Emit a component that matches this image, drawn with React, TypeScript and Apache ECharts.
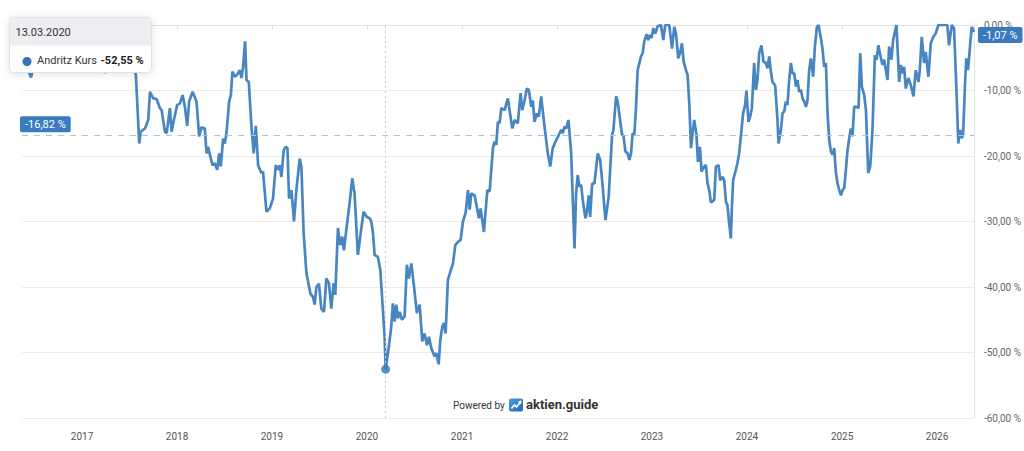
import React, { useEffect, useRef } from "react";
import * as echarts from "echarts";

// ---------- data (dates as decimal years) ----------
const seriesName = "Andritz Kurs";

const dates = [
  // 2016 - 2017
  2016.369, 2016.411, 2016.464, 2016.506, 2016.579, 2016.664, 2016.748, 2016.832, 2016.926,
  2017.032, 2017.137, 2017.242, 2017.315, 2017.400, 2017.484, 2017.536, 2017.568, 2017.602,
  2017.617, 2017.662, 2017.697, 2017.715, 2017.750, 2017.785, 2017.820, 2017.838, 2017.873,
  2017.891, 2017.925, 2017.943, 2017.967,
  // 2018
  2018.002, 2018.030, 2018.059, 2018.083, 2018.107, 2018.128, 2018.164, 2018.206, 2018.233,
  2018.259, 2018.293, 2018.311, 2018.328, 2018.346, 2018.374, 2018.398, 2018.423, 2018.444,
  2018.461, 2018.486, 2018.504, 2018.521, 2018.549, 2018.567, 2018.584, 2018.609, 2018.633,
  2018.661, 2018.679, 2018.696, 2018.717, 2018.732, 2018.756, 2018.784, 2018.808, 2018.830,
  2018.854, 2018.889, 2018.906, 2018.942, 2018.977,
  // 2019
  2019.011, 2019.040, 2019.064, 2019.082, 2019.100, 2019.124, 2019.145, 2019.163, 2019.180,
  2019.205, 2019.232, 2019.257, 2019.292, 2019.310, 2019.334, 2019.363, 2019.405, 2019.432,
  2019.450, 2019.468, 2019.495, 2019.520, 2019.548, 2019.573, 2019.600, 2019.625, 2019.650,
  2019.667, 2019.695, 2019.720, 2019.741, 2019.758, 2019.783, 2019.818, 2019.846, 2019.870,
  2019.905, 2019.930, 2019.965,
  // 2020
  2020.000, 2020.028, 2020.046, 2020.063, 2020.081, 2020.115, 2020.141, 2020.168, 2020.186,
  2020.197, 2020.231, 2020.256, 2020.273, 2020.291, 2020.309, 2020.326, 2020.344, 2020.368,
  2020.396, 2020.420, 2020.441, 2020.467, 2020.491, 2020.525, 2020.554, 2020.582, 2020.606,
  2020.631, 2020.652, 2020.677, 2020.712, 2020.729, 2020.754, 2020.771, 2020.793, 2020.809,
  2020.827, 2020.851, 2020.904, 2020.929, 2020.957, 2020.985,
  // 2021
  2021.009, 2021.037, 2021.062, 2021.080, 2021.097, 2021.132, 2021.177, 2021.195, 2021.230,
  2021.266, 2021.290, 2021.325, 2021.342, 2021.360, 2021.377, 2021.395, 2021.413, 2021.448,
  2021.482, 2021.500, 2021.529, 2021.553, 2021.587, 2021.616, 2021.634, 2021.658, 2021.682,
  2021.703, 2021.728, 2021.745, 2021.763, 2021.787, 2021.808, 2021.833, 2021.868, 2021.903,
  2021.928, 2021.955, 2021.984,
  // 2022
  2022.018, 2022.044, 2022.061, 2022.078, 2022.096, 2022.120, 2022.149, 2022.184, 2022.201,
  2022.218, 2022.236, 2022.254, 2022.271, 2022.299, 2022.313, 2022.334, 2022.349, 2022.370,
  2022.394, 2022.429, 2022.454, 2022.475, 2022.510, 2022.544, 2022.580, 2022.594, 2022.622,
  2022.639, 2022.664, 2022.685, 2022.699, 2022.720, 2022.744, 2022.762, 2022.780, 2022.796,
  2022.814, 2022.832, 2022.849, 2022.885, 2022.902, 2022.919, 2022.944, 2022.962, 2022.979,
  2022.996,
  // 2023
  2023.014, 2023.035, 2023.059, 2023.095, 2023.119, 2023.140, 2023.182, 2023.211, 2023.235,
  2023.253, 2023.277, 2023.295, 2023.316, 2023.333, 2023.358, 2023.375, 2023.393, 2023.411,
  2023.427, 2023.445, 2023.469, 2023.484, 2023.505, 2023.522, 2023.550, 2023.568, 2023.585,
  2023.603, 2023.621, 2023.656, 2023.673, 2023.701, 2023.719, 2023.743, 2023.761, 2023.779,
  2023.795, 2023.813, 2023.831, 2023.842, 2023.855, 2023.884, 2023.900, 2023.918, 2023.936,
  2023.960, 2023.981, 2023.995,
  // 2024
  2024.016, 2024.034, 2024.052, 2024.076, 2024.094, 2024.111, 2024.129, 2024.153, 2024.174,
  2024.199, 2024.216, 2024.234, 2024.252, 2024.268, 2024.297, 2024.321, 2024.332, 2024.357,
  2024.374, 2024.392, 2024.409, 2024.426, 2024.444, 2024.462, 2024.479, 2024.497, 2024.515,
  2024.531, 2024.549, 2024.567, 2024.584, 2024.602, 2024.620, 2024.636, 2024.654, 2024.672,
  2024.696, 2024.714, 2024.735, 2024.752, 2024.777, 2024.794, 2024.812, 2024.830, 2024.847,
  2024.865, 2024.882, 2024.899, 2024.917, 2024.935, 2024.952, 2024.970, 2024.988,
  // 2025 - 2026
  2025.004, 2025.022, 2025.040, 2025.057, 2025.075, 2025.093, 2025.110, 2025.127, 2025.152,
  2025.173, 2025.191, 2025.208, 2025.233, 2025.251, 2025.275, 2025.296, 2025.320, 2025.345,
  2025.362, 2025.383, 2025.390, 2025.425, 2025.443, 2025.478, 2025.495, 2025.520, 2025.537,
  2025.572, 2025.601, 2025.618, 2025.635, 2025.653, 2025.671, 2025.698, 2025.724, 2025.751,
  2025.776, 2025.804, 2025.818, 2025.839, 2025.863, 2025.881, 2025.909, 2025.934, 2025.961,
  2025.986, 2026.014, 2026.108, 2026.126, 2026.155, 2026.179, 2026.203, 2026.224, 2026.242,
  2026.260, 2026.274, 2026.295, 2026.308, 2026.326, 2026.344, 2026.365, 2026.389,
];

const values = [
  // 2016 - 2017
  -4.5, -6, -8, -5, -3, -4.5, -2.5, -5, -3.5,
  -6, -4, -7.3, -4, -2.5, -4, -3, -8, -18.1,
  -16.3, -15.8, -14.5, -10.2, -11.2, -11.3, -12.7, -13, -16.3,
  -16.5, -12.7, -16.3, -14.5,
  // 2018
  -12.2, -12, -10.7, -12.5, -15.4, -11.7, -10.2, -11.7, -17,
  -15.6, -15.8, -19.6, -18.6, -19.8, -21.4, -21.1, -22.1, -19.6,
  -21.6, -17.3, -18.1, -16.5, -11.7, -10.7, -7.1, -7.9, -7.6,
  -6.9, -8.1, -6.4, -2.5, -8.4, -8.7, -15.5, -19.6, -15.4,
  -21.4, -22.6, -22.4, -28.5, -28,
  // 2019
  -26.5, -21.4, -22.1, -21.4, -23.2, -19.1, -18.6, -18.8, -26.5,
  -25.2, -30, -25.2, -20.4, -21.6, -31.8, -37.9, -41, -41.5,
  -42.7, -40, -39.5, -43.3, -43.8, -38.7, -39.4, -43.3, -39.4,
  -41.2, -31, -33.6, -32.3, -34.4, -31.3, -27.2, -23.4, -25.7,
  -35.1, -32.3, -28.5,
  // 2020
  -29.3, -29.5, -30, -31.6, -35.1, -35.4, -37.4, -43.5, -47.6,
  -52.55, -49.1, -46, -42.5, -45.3, -42.7, -44.8, -43.8, -45,
  -44.5, -36.6, -38.7, -36.4, -39.4, -44, -42.7, -48.3, -47.1,
  -48.9, -47.6, -49.4, -50.6, -50.1, -51.8, -48.1, -46, -45.5,
  -47.1, -38.9, -36.4, -33.6, -33.1, -32.8,
  // 2021
  -30, -28.7, -25.2, -28.2, -25.7, -26, -29.5, -28, -31.6,
  -25.2, -25.4, -18.8, -17.8, -18.3, -14.8, -15, -12.7, -13,
  -11.2, -13, -15.8, -14.5, -15, -10.4, -13, -11.5, -9.7,
  -9.9, -12.5, -11.5, -14.8, -13.5, -14, -10.9, -15.5, -19.6,
  -21.6, -18.8, -17.8,
  // 2022
  -16.8, -16, -16.5, -15.5, -15.8, -14.5, -19.6, -34.1, -25.7,
  -22.9, -24.7, -24.4, -26.7, -29.5, -28.7, -26, -29.3, -24.2,
  -24.2, -19.6, -20.6, -23.7, -29.8, -26.2, -16.8, -16, -10.9,
  -11.7, -14.5, -16.8, -16.8, -19.3, -19.6, -20.6, -19.6, -16.5,
  -16.8, -12.5, -6.9, -4.8, -4.3, -2.5, -1.4, -2.3, -1.5,
  -2,
  // 2023
  -0.5, -1.3, -0.2, 0, -2.3, 0, 0, -3.6, -0.3,
  -1.3, -5.1, -4.3, -2.8, -5.6, -6.9, -7.6, -12, -18.8,
  -16.5, -14.5, -16.8, -20.9, -18.6, -22.4, -21.6, -21.4, -24.2,
  -25.2, -27.1, -26.7, -21.6, -21.4, -23.7, -23.2, -23.7, -27,
  -27.5, -30.3, -32.6, -27.7, -23.7, -22.1, -21.1, -19.6, -17,
  -13.5, -12.2, -10,
  // 2024
  -14.8, -14, -12.7, -5.8, -9.9, -8.4, -4.3, -3.1, -5.6,
  -5.8, -6.6, -4.8, -7.1, -8.7, -9.2, -14.5, -18.1, -16,
  -13.5, -13.2, -11.7, -12.2, -8.4, -5.8, -7.4, -7.4, -9.4,
  -8.4, -10.2, -9.9, -11.2, -11.7, -12.5, -11.5, -6.9, -5.1,
  -7.9, -3.3, -0.3, 0, -2, -3.6, -6.4, -5.8, -13.5,
  -17.6, -19.3, -19.8, -18.8, -22.6, -24.2, -25.2, -26,
  // 2025 - 2026
  -25.2, -24.9, -22.1, -19.1, -17.3, -15.8, -17, -12.5, -12.5,
  -12.7, -4.3, -9.4, -10.7, -13, -22.6, -21.6, -16, -4.6,
  -5.3, -3.1, -3.8, -6.1, -5.3, -8.4, -3.3, -5.3, -2.3,
  0, -8.7, -6.1, -7.4, -6.4, -9.7, -8.1, -9.2, -10.9,
  -6.9, -8.7, -6.9, -1.8, -5.8, -4.1, -7.9, -2.8, -1.8,
  -1.3, 0, 0, -3.1, 0, -0.5, -9.4, -18.1, -16,
  -17.3, -16.8, -8.9, -5.1, -6.9, -3.8, -0.3, -1.07,
];

const yearTicks = [2017, 2018, 2019, 2020, 2021, 2022, 2023, 2024, 2025, 2026];
const yMin = -60;
const yMax = 0;
const yStep = 10;
const referenceValue = -16.82;
const highlightDate = 2020.197; // 13.03.2020
const highlightValue = -52.55;

// ---------- helpers ----------
const toTs = (dy: number) => {
  const y = Math.floor(dy);
  const s = Date.UTC(y, 0, 1);
  const e = Date.UTC(y + 1, 0, 1);
  return s + (dy - y) * (e - s);
};
const fmtPct = (v: number) => v.toFixed(2).replace(".", ",") + " %";
const fmtDate = (ts: number) => {
  const d = new Date(ts);
  const p = (n: number) => String(n).padStart(2, "0");
  return `${p(d.getUTCDate())}.${p(d.getUTCMonth() + 1)}.${d.getUTCFullYear()}`;
};

const LINE = "#4886c2";
const BOX = "#3a7bbf";
const DOT = "#3573b3";
const FONT = "Roboto, 'Noto Sans', sans-serif";
const TOP = 100;

export default function App() {
  const ref = useRef<HTMLDivElement>(null);

  useEffect(() => {
    if (!ref.current) return;
    const chart = echarts.init(ref.current, undefined, { renderer: "svg" });
    const yearTs = yearTicks.map((y) => Date.UTC(y, 0, 1));
    const lastValue = values[values.length - 1];
    const hTs = toTs(highlightDate);

    const boxLabel = {
      show: true,
      backgroundColor: BOX,
      color: "#fff",
      fontSize: 11,
      fontFamily: FONT,
      padding: [3, 5, 2, 5],
      borderRadius: 2,
    };

    const option: any = {
      animation: false,
      textStyle: { fontFamily: FONT },
      grid: { left: 22, right: 49, top: 25, bottom: 33 },
      xAxis: {
        type: "value",
        min: toTs(dates[0]),
        max: toTs(dates[dates.length - 1]),
        axisLine: { show: true, lineStyle: { color: "#e3e3e3", width: 1 } },
        axisTick: {
          show: true,
          length: 4,
          customValues: yearTs,
          lineStyle: { color: "#dcdcdc" },
        },
        axisLabel: {
          customValues: yearTs,
          formatter: (v: number) => String(new Date(v).getUTCFullYear()),
          color: "#555",
          fontSize: 10,
          margin: 13,
        },
        splitLine: { show: false },
      },
      yAxis: {
        type: "value",
        position: "right",
        min: yMin,
        max: yMax,
        interval: yStep,
        axisLine: { show: true, lineStyle: { color: "#e3e3e3" } },
        axisTick: { show: false },
        splitLine: { show: true, lineStyle: { color: "#ebebeb" } },
        axisLabel: { formatter: fmtPct, color: "#666", fontSize: 10, margin: 10 },
      },
      series: [
        {
          type: "line",
          name: seriesName,
          data: dates.map((d, i) => [toTs(d), values[i]]),
          showSymbol: false,
          symbol: "none",
          lineStyle: { color: LINE, width: 2.7 },
          z: 3,
          markLine: {
            silent: true,
            symbol: ["none", "none"],
            animation: false,
            data: [
              {
                yAxis: referenceValue,
                lineStyle: { color: "#a3c4e6", type: [6, 6], width: 1 },
                label: {
                  ...boxLabel,
                  position: "insideStartTop",
                  distance: 3,
                  offset: [-5, 0],
                  formatter: fmtPct(referenceValue),
                },
              },
              {
                yAxis: lastValue,
                lineStyle: { color: "rgba(0,0,0,0)", width: 0 },
                label: {
                  ...boxLabel,
                  position: "end",
                  distance: 4,
                  offset: [0, 3],
                  formatter: fmtPct(lastValue),
                },
              },
              {
                xAxis: hTs,
                lineStyle: { color: "#c8c8c8", type: [2, 3], width: 1 },
                label: { show: false },
              },
            ],
          },
        },
        {
          type: "scatter",
          data: [[hTs, highlightValue]],
          symbol: "circle",
          symbolSize: 9,
          itemStyle: { color: DOT },
          silent: true,
          z: 5,
        },
      ],
      graphic: [
        {
          type: "group",
          left: 9,
          top: 17,
          z: TOP,
          children: [
            {
              type: "rect",
              z: TOP,
              shape: { x: 0, y: 0, width: 142, height: 55, r: 4 },
              style: {
                fill: "#fff",
                stroke: "#e2e2e2",
                lineWidth: 1,
                shadowBlur: 8,
                shadowColor: "rgba(0,0,0,0.12)",
                shadowOffsetY: 1,
              },
            },
            {
              type: "rect",
              z: TOP + 1,
              shape: { x: 0.5, y: 0.5, width: 141, height: 27.5, r: [4, 4, 0, 0] },
              style: { fill: "#eceef1" },
            },
            {
              type: "text",
              z: TOP + 2,
              x: 6,
              y: 14.5,
              style: {
                text: fmtDate(hTs),
                fill: "#333",
                fontSize: 11,
                fontFamily: FONT,
                verticalAlign: "middle",
              },
            },
            {
              type: "circle",
              z: TOP + 2,
              shape: { cx: 17.5, cy: 44, r: 4.5 },
              style: { fill: DOT },
            },
            {
              type: "text",
              z: TOP + 2,
              x: 27.5,
              y: 42.5,
              style: {
                text: seriesName,
                fill: "#333",
                fontSize: 11,
                fontFamily: FONT,
                verticalAlign: "middle",
              },
            },
            {
              type: "text",
              z: TOP + 2,
              x: 91,
              y: 42.5,
              style: {
                text: fmtPct(highlightValue),
                fill: "#222",
                fontSize: 11,
                fontWeight: "bold",
                fontFamily: FONT,
                verticalAlign: "middle",
              },
            },
          ],
        },
        {
          type: "group",
          left: 453,
          top: 398,
          z: TOP,
          children: [
            {
              type: "text",
              z: TOP,
              x: 0,
              y: 7,
              style: {
                text: "Powered by",
                fill: "#333",
                fontSize: 10,
                fontFamily: FONT,
                verticalAlign: "middle",
              },
            },
            {
              type: "rect",
              z: TOP,
              shape: { x: 56, y: 0.5, width: 14, height: 13, r: 2 },
              style: {
                fill: new echarts.graphic.LinearGradient(0, 0, 1, 1, [
                  { offset: 0, color: "#4a9be0" },
                  { offset: 1, color: "#2a66b3" },
                ]),
              },
            },
            {
              type: "polyline",
              z: TOP + 1,
              shape: {
                points: [
                  [58.5, 10.5],
                  [61.5, 7],
                  [63.5, 9],
                  [67, 4.5],
                ],
              },
              style: { stroke: "#fff", lineWidth: 1.6, fill: "none" },
            },
            {
              type: "polygon",
              z: TOP + 1,
              shape: {
                points: [
                  [68.5, 2.5],
                  [65, 3.2],
                  [68, 6.5],
                ],
              },
              style: { fill: "#fff" },
            },
            {
              type: "text",
              z: TOP,
              x: 73,
              y: 6.5,
              style: {
                text: "aktien.guide",
                fill: "#333",
                fontSize: 13,
                fontWeight: "bold",
                fontFamily: FONT,
                verticalAlign: "middle",
              },
            },
          ],
        },
      ],
    };

    chart.setOption(option);
    return () => chart.dispose();
  }, []);

  return (
    <div
      ref={ref}
      style={{ position: "absolute", left: 0, top: 0, width: 1024, height: 451, background: "#fff" }}
    />
  );
}
